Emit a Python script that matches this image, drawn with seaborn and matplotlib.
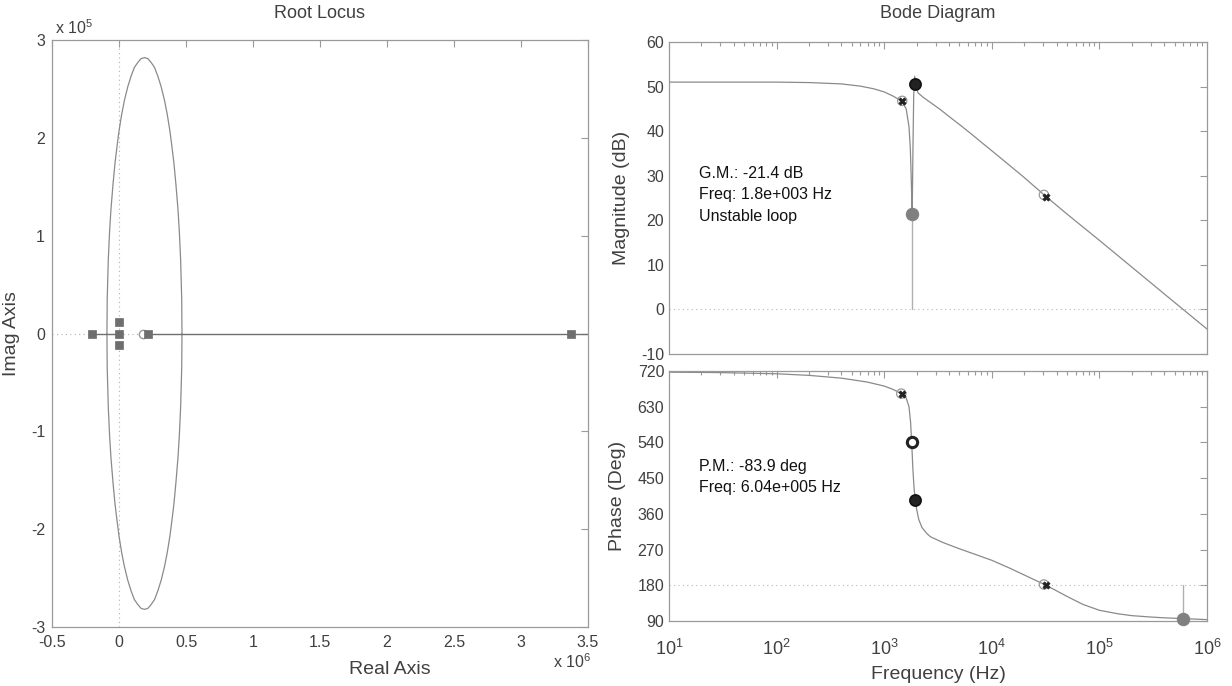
import numpy as np
import pandas as pd
import matplotlib
matplotlib.use("Agg")
import matplotlib.pyplot as plt
import seaborn as sns
from matplotlib.ticker import FixedLocator, FuncFormatter, LogLocator, NullFormatter

# ---------------- data ----------------
# Root locus (x in units of 1e6, y in units of 1e5)
locus_upper_x = [-0.09, -0.088, -0.08, -0.07, -0.06, -0.045, -0.03, -0.015, 0.00, 0.02, 0.04, 0.065,
                 0.09, 0.115, 0.14, 0.165, 0.19, 0.215, 0.24, 0.265, 0.29, 0.315, 0.34, 0.36, 0.38,
                 0.395, 0.41, 0.425, 0.44, 0.45, 0.46, 0.468, 0.47]
locus_upper_y = [0.00, 0.35, 0.75, 1.05, 1.27, 1.52, 1.74, 1.91, 2.07, 2.24, 2.38, 2.52,
                 2.63, 2.72, 2.77, 2.81, 2.82, 2.81, 2.77, 2.72, 2.63, 2.52, 2.38, 2.24, 2.07,
                 1.91, 1.74, 1.52, 1.27, 1.05, 0.75, 0.35, 0.00]
real_seg1_x = [-0.2, 0.0]
real_seg2_x = [0.2, 3.5]
pole_x = [-0.2, 0.0, 0.0, 0.0, 0.215, 3.37]
pole_y = [0.0, 0.0, 0.115, -0.115, 0.0, 0.0]
open_pt_x = [0.18]
open_pt_y = [0.0]

# Bode magnitude (Hz, dB)
mag_f = [10, 30, 100, 200, 400, 600, 800, 1000, 1200, 1450, 1600, 1700, 1750, 1790, 1820,
         1850, 1880, 1920, 1960, 2060, 2300, 2700, 3300, 4000, 5060, 6500, 8000, 1e4, 1.4e4,
         2e4, 3.2e4, 5e4, 1e5, 2e5, 4e5, 6e5, 1e6]
mag_db = [51.0, 51.0, 51.0, 50.9, 50.6, 50.1, 49.5, 48.8, 47.9, 46.8, 45.0, 41.0, 36.0, 28.0, 20.8,
          36.0, 48.0, 52.3, 50.6, 48.6, 47.6, 46.4, 44.9, 43.3, 41.4, 39.3, 37.5, 35.6, 32.7,
          29.6, 25.3, 21.4, 15.5, 9.5, 3.5, 0.0, -4.4]

# Bode phase (Hz, deg)
ph_f = [10, 30, 100, 200, 400, 700, 1000, 1200, 1470, 1600, 1700, 1760, 1800, 1850, 1900,
        1950, 2000, 2100, 2250, 2500, 2700, 3500, 5000, 7000, 1e4, 1.5e4, 2e4, 3.2e4, 4e4,
        5e4, 7e4, 1e5, 1.5e5, 2e5, 3e5, 4e5, 6.04e5, 1e6]
ph_deg = [717, 716, 713, 709, 702, 692, 682, 674, 662, 652, 630, 590, 540, 470, 420,
          396, 372, 345, 325, 310, 302, 288, 272, 258, 243, 222, 206, 180, 166,
          152, 132, 117, 108, 103.5, 100, 98, 96.1, 93.5]

# markers
mag_star_f = [1470, 3.2e4]
mag_star_db = [46.8, 25.3]
mag_ring_f = [1470, 3.05e4]
mag_ring_db = [46.8, 25.7]
mag_dot_f = [1950]
mag_dot_db = [50.6]
gm_f = 1.8e3
gm_db = 21.4

ph_star_f = [1470, 3.2e4]
ph_star_deg = [662, 180]
ph_ring_f = [1440, 3.05e4]
ph_ring_deg = [663, 182]
ph_open_f = [1800]
ph_open_deg = [540]
ph_dot_f = [1950]
ph_dot_deg = [396]
pm_f = 6.04e5
pm_deg = 96.1

x_ticks_rl = [-0.5, 0, 0.5, 1, 1.5, 2, 2.5, 3, 3.5]
y_ticks_rl = [-3, -2, -1, 0, 1, 2, 3]
mag_ticks = [-10, 0, 10, 20, 30, 40, 50, 60]
ph_ticks = [90, 180, 270, 360, 450, 540, 630, 720]

# ---------------- style ----------------
sns.set_theme(style="white")
plt.rcParams['font.family'] = ['Liberation Sans', 'DejaVu Sans']
plt.rcParams['axes.unicode_minus'] = False
plt.rcParams['mathtext.fontset'] = 'custom'
plt.rcParams['mathtext.rm'] = 'Liberation Sans'
plt.rcParams['mathtext.it'] = 'Liberation Sans'

TXT = '#404040'
SPINE = '#9a9a9a'
LINE = '#8a8a8a'

W, H = 1232, 686
fig = plt.figure(figsize=(W / 100, H / 100), dpi=100)
fig.patch.set_facecolor('white')


def rect(l, t, r, b):
    return [l / W, 1 - b / H, (r - l) / W, (b - t) / H]


ax1 = fig.add_axes(rect(52, 40, 588, 627))
ax2 = fig.add_axes(rect(669, 42, 1207, 354))
ax3 = fig.add_axes(rect(669, 371, 1207, 621))


def style_axes(ax):
    for s in ax.spines.values():
        s.set_color(SPINE)
        s.set_linewidth(0.9)
    ax.tick_params(which='both', direction='in', top=True, right=True, colors=SPINE,
                   labelcolor=TXT, labelsize=11.5, width=0.8)
    ax.tick_params(which='major', length=5)
    ax.tick_params(which='minor', length=3)
    ax.set_facecolor('white')


# ---------------- root locus ----------------
style_axes(ax1)
ax1.axvline(0, color='#b0b0b0', lw=0.8, ls=(0, (1, 3)), zorder=1)
ax1.axhline(0, color='#b0b0b0', lw=0.8, ls=(0, (1, 3)), zorder=1)

upper = pd.DataFrame({'x': locus_upper_x, 'y': locus_upper_y})
lower = pd.DataFrame({'x': locus_upper_x, 'y': [-v for v in locus_upper_y]})
sns.lineplot(data=upper, x='x', y='y', sort=False, estimator=None, color=LINE, lw=0.9, ax=ax1)
sns.lineplot(data=lower, x='x', y='y', sort=False, estimator=None, color=LINE, lw=0.9, ax=ax1)
sns.lineplot(x=real_seg1_x, y=[0, 0], sort=False, estimator=None, color='#707070', lw=1.0, ax=ax1)
sns.lineplot(x=real_seg2_x, y=[0, 0], sort=False, estimator=None, color='#707070', lw=1.0, ax=ax1)
sns.scatterplot(x=open_pt_x, y=open_pt_y, marker='o', s=36, facecolor='white',
                edgecolor='#999999', linewidth=1.0, ax=ax1, zorder=4)
sns.scatterplot(x=pole_x, y=pole_y, marker='s', s=30, color='#6e6e6e',
                edgecolor='#6e6e6e', linewidth=0.5, ax=ax1, zorder=5)

ax1.set_xlim(-0.5, 3.5)
ax1.set_ylim(-3, 3)
ax1.xaxis.set_major_locator(FixedLocator(x_ticks_rl))
ax1.yaxis.set_major_locator(FixedLocator(y_ticks_rl))
ax1.xaxis.set_major_formatter(FuncFormatter(lambda v, p: '%g' % v))
ax1.yaxis.set_major_formatter(FuncFormatter(lambda v, p: '%g' % v))
ax1.tick_params(axis='x', pad=6)
ax1.tick_params(axis='y', pad=5)
ax1.set_xlabel('Real Axis', fontsize=14, color=TXT, labelpad=6)
ax1.xaxis.set_label_coords(0.63, -0.058)
ax1.set_ylabel('Imag Axis', fontsize=14, color=TXT, labelpad=8)
fig.text(55 / W, 1 - 28 / H, r'x 10$^{5}$', fontsize=11.5, color=TXT, ha='left', va='center')
fig.text(553 / W, 1 - 662 / H, r'x 10$^{6}$', fontsize=11.5, color=TXT, ha='left', va='center')
fig.text(320 / W, 1 - 14 / H, 'Root Locus', fontsize=13, color=TXT, ha='center', va='center')

# ---------------- bode magnitude ----------------
for ax in (ax2, ax3):
    style_axes(ax)
    ax.set_xscale('log')
    ax.set_xlim(10, 1e6)
    ax.xaxis.set_major_locator(LogLocator(base=10, numticks=10))
    ax.xaxis.set_minor_locator(LogLocator(base=10, subs=np.arange(2, 10), numticks=20))
    ax.xaxis.set_minor_formatter(NullFormatter())

ax2.axhline(0, color='#b8b8b8', lw=0.8, ls=(0, (1, 3)), zorder=1)
sns.lineplot(x=mag_f, y=mag_db, sort=False, estimator=None, color=LINE, lw=0.9, ax=ax2)
ax2.plot([gm_f, gm_f], [0, gm_db], color='#b0b0b0', lw=1.0, zorder=2)
sns.scatterplot(x=[gm_f], y=[gm_db], marker='o', s=80, color='#808080', edgecolor='#808080', ax=ax2, zorder=5)
sns.scatterplot(x=mag_ring_f, y=mag_ring_db, marker='o', s=45, facecolor='none',
                edgecolor='#999999', linewidth=0.9, ax=ax2, zorder=5)
sns.scatterplot(x=mag_star_f, y=mag_star_db, marker='X', s=28, color='#222222', edgecolor='#222222', ax=ax2, zorder=6)
sns.scatterplot(x=mag_dot_f, y=mag_dot_db, marker='o', s=65, color='#222222', edgecolor='#111111',
                linewidth=1.2, ax=ax2, zorder=6)
ax2.set_ylim(-10, 60)
ax2.yaxis.set_major_locator(FixedLocator(mag_ticks))
ax2.yaxis.set_major_formatter(FuncFormatter(lambda v, p: '%g' % v))
ax2.tick_params(axis='x', labelbottom=False)
ax2.set_ylabel('Magnitude (dB)', fontsize=14, color=TXT, labelpad=8)
ax2.text(0.055, 0.603, 'G.M.: -21.4 dB\nFreq: 1.8e+003 Hz\nUnstable loop', transform=ax2.transAxes,
         fontsize=11.5, color='#111111', ha='left', va='top', linespacing=1.55)
fig.text(938 / W, 1 - 14 / H, 'Bode Diagram', fontsize=13, color=TXT, ha='center', va='center')

# ---------------- bode phase ----------------
ax3.axhline(180, color='#b8b8b8', lw=0.8, ls=(0, (1, 3)), zorder=1)
sns.lineplot(x=ph_f, y=ph_deg, sort=False, estimator=None, color=LINE, lw=0.9, ax=ax3)
ax3.plot([pm_f, pm_f], [pm_deg, 180], color='#b0b0b0', lw=1.0, zorder=2)
sns.scatterplot(x=[pm_f], y=[pm_deg], marker='o', s=80, color='#808080', edgecolor='#808080', ax=ax3, zorder=5,
                clip_on=False)
sns.scatterplot(x=ph_ring_f, y=ph_ring_deg, marker='o', s=45, facecolor='none',
                edgecolor='#999999', linewidth=0.9, ax=ax3, zorder=5)
sns.scatterplot(x=ph_star_f, y=ph_star_deg, marker='X', s=28, color='#222222', edgecolor='#222222', ax=ax3, zorder=6)
sns.scatterplot(x=ph_open_f, y=ph_open_deg, marker='o', s=55, facecolor='white', edgecolor='#222222',
                linewidth=2.2, ax=ax3, zorder=6)
sns.scatterplot(x=ph_dot_f, y=ph_dot_deg, marker='o', s=65, color='#222222', edgecolor='#111111',
                linewidth=1.2, ax=ax3, zorder=6)
ax3.set_ylim(90, 720)
ax3.yaxis.set_major_locator(FixedLocator(ph_ticks))
ax3.yaxis.set_major_formatter(FuncFormatter(lambda v, p: '%g' % v))
ax3.set_ylabel('Phase (Deg)', fontsize=14, color=TXT, labelpad=8)
ax3.tick_params(axis='x', labelsize=13, pad=13)
ax3.set_xlabel('Frequency (Hz)', fontsize=14, color=TXT, labelpad=5)
ax3.text(0.055, 0.65, 'P.M.: -83.9 deg\nFreq: 6.04e+005 Hz', transform=ax3.transAxes,
         fontsize=11.5, color='#111111', ha='left', va='top', linespacing=1.55)

for ax in (ax1, ax2, ax3):
    leg = ax.get_legend()
    if leg is not None:
        leg.remove()

fig.savefig('out.png', dpi=100, facecolor='white')
